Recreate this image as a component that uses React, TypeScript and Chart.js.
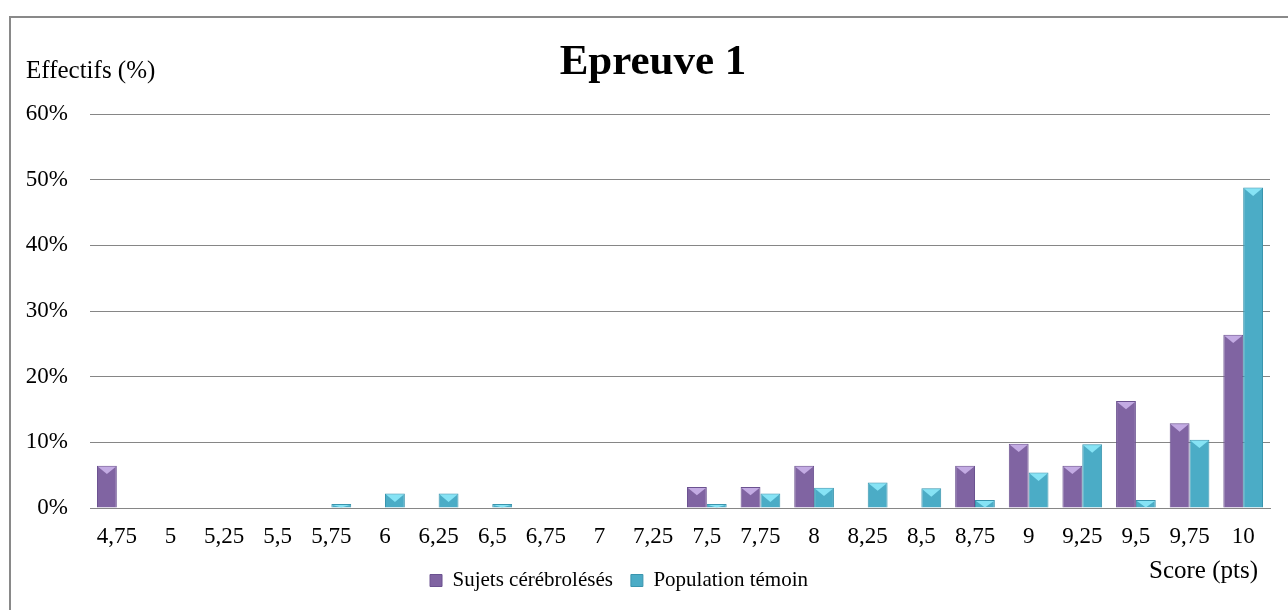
import React, { useEffect, useRef } from "react";
import { Chart, registerables } from "chart.js";

Chart.register(...registerables);

const categories = [
  "4,75", "5", "5,25", "5,5", "5,75", "6", "6,25", "6,5", "6,75", "7", "7,25",
  "7,5", "7,75", "8", "8,25", "8,5", "8,75", "9", "9,25", "9,5", "9,75", "10",
];
const sujets = [6.45, 0, 0, 0, 0, 0, 0, 0, 0, 0, 0, 3.2, 3.2, 6.45, 0, 0, 6.45, 9.8, 6.45, 16.3, 12.9, 26.4];
const temoin = [0, 0, 0, 0, 0.6, 2.2, 2.2, 0.6, 0, 0, 0, 0.6, 2.2, 3.1, 3.9, 3.0, 1.2, 5.4, 9.7, 1.2, 10.4, 48.8];
const seriesNames = ["Sujets cérébrolésés", "Population témoin"];
const titleText = "Epreuve 1";
const yTitle = "Effectifs (%)";
const xTitle = "Score (pts)";

const FONT = '"Liberation Serif", "Times New Roman", serif';
const PURPLE = "#8064A2";
const CYAN = "#4BACC6";
const TOPS = ["#C3ABE3", "#86E3F5"];

const bevelPlugin = {
  id: "bevel",
  afterDatasetsDraw(chart: any) {
    const ctx = chart.ctx;
    chart.data.datasets.forEach((ds: any, di: number) => {
      const meta = chart.getDatasetMeta(di);
      meta.data.forEach((el: any, i: number) => {
        const v = ds.data[i];
        if (!v) return;
        const { x, y, base, width } = el.getProps(["x", "y", "base", "width"], true);
        const h = base - y;
        const d = Math.min(width * 0.42, h);
        ctx.save();
        ctx.fillStyle = TOPS[di];
        ctx.beginPath();
        ctx.moveTo(x - width / 2 + 1, y + 1);
        ctx.lineTo(x + width / 2 - 1, y + 1);
        ctx.lineTo(x, y + d);
        ctx.closePath();
        ctx.fill();
        ctx.restore();
      });
    });
  },
};

const textPlugin = {
  id: "texts",
  afterLayout(chart: any) {
    const lg = chart.legend;
    if (lg) {
      lg.left -= 16;
      lg.right -= 16;
    }
  },
  afterDraw(chart: any) {
    const ctx = chart.ctx;
    ctx.save();
    ctx.fillStyle = "#000";
    ctx.textBaseline = "alphabetic";
    ctx.font = `bold 43px ${FONT}`;
    ctx.textAlign = "center";
    ctx.fillText(titleText, 653, 74);
    ctx.font = `25px ${FONT}`;
    ctx.textAlign = "left";
    ctx.fillText(yTitle, 26, 78);
    ctx.fillText(xTitle, 1149, 578);
    ctx.restore();
  },
};

export default function App() {
  const ref = useRef<HTMLCanvasElement>(null);
  useEffect(() => {
    if (!ref.current) return;
    const chart = new Chart(ref.current, {
      type: "bar",
      data: {
        labels: categories,
        datasets: [
          {
            label: seriesNames[0],
            data: sujets,
            backgroundColor: PURPLE,
            borderColor: "#6B5290",
            borderWidth: 1,
            barPercentage: 1,
            categoryPercentage: 0.74,
          },
          {
            label: seriesNames[1],
            data: temoin,
            backgroundColor: CYAN,
            borderColor: "#3A95AE",
            borderWidth: 1,
            barPercentage: 1,
            categoryPercentage: 0.74,
          },
        ],
      },
      options: {
        responsive: false,
        animation: false,
        devicePixelRatio: 1,
        layout: { padding: { left: 0, right: 18, top: 114, bottom: 9 } },
        plugins: {
          title: { display: false },
          tooltip: { enabled: false },
          legend: {
            position: "bottom",
            labels: {
              font: { family: FONT, size: 21 },
              color: "#000",
              boxWidth: 12,
              boxHeight: 12,
              padding: 18,
            },
          },
        },
        scales: {
          x: {
            grid: { display: false, drawTicks: false },
            border: { display: true, color: "#868686", width: 1 },
            ticks: { font: { family: FONT, size: 23 }, color: "#000", padding: 15, maxRotation: 0, autoSkip: false },
            afterFit: (s: any) => { s.height = 44; },
          },
          y: {
            min: 0,
            max: 60,
            grid: { color: "#868686", drawTicks: false },
            border: { display: false },
            ticks: {
              stepSize: 10,
              font: { family: FONT, size: 23 },
              color: "#000",
              padding: 22,
              callback: (v: any) => `${v}%`,
            },
            afterFit: (s: any) => { s.width = 90; },
          },
        },
      },
      plugins: [bevelPlugin, textPlugin],
    });
    return () => chart.destroy();
  }, []);
  return (
    <div>
      <canvas ref={ref} width={1288} height={610} style={{ position: "fixed", left: 0, top: 0, width: 1288, height: 610 }} />
      <div
        style={{
          position: "fixed",
          left: 9,
          top: 16,
          right: 0,
          bottom: 0,
          borderLeft: "2px solid #898989",
          borderTop: "2px solid #898989",
          pointerEvents: "none",
        }}
      />
    </div>
  );
}
